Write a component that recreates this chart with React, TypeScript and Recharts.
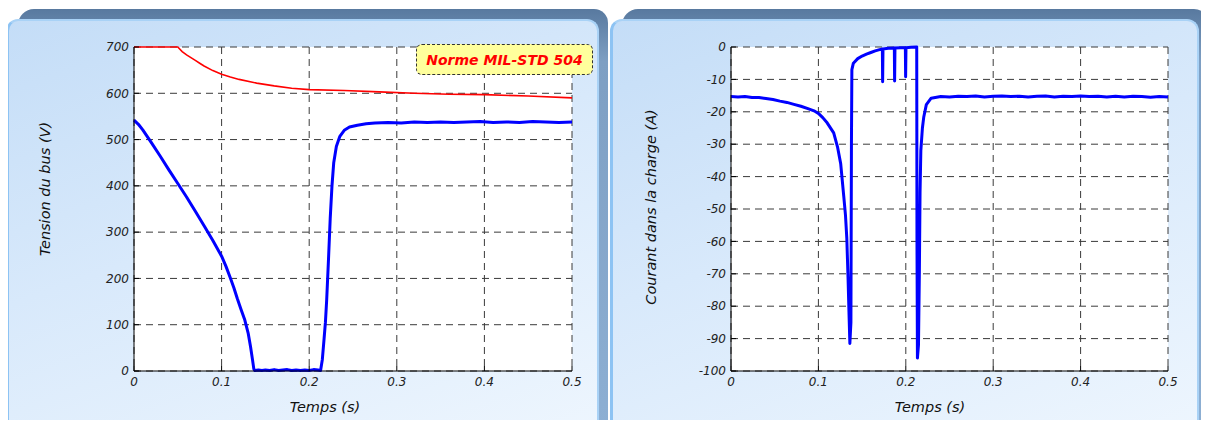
import { CartesianGrid, Line, LineChart, XAxis, YAxis } from "recharts";
import { type JSX, type ReactNode } from "react";

const timeTicks = [0, 0.1, 0.2, 0.3, 0.4, 0.5];
const voltageTicks = [0, 100, 200, 300, 400, 500, 600, 700];
const currentTicks = [-100, -90, -80, -70, -60, -50, -40, -30, -20, -10, 0];

// tension du bus (V), mesurée
const busTime = [
  0, 0.005, 0.01, 0.015, 0.02, 0.03, 0.04, 0.05, 0.06, 0.07, 0.08, 0.09, 0.1,
  0.105, 0.11, 0.114, 0.118, 0.122, 0.1265, 0.1303, 0.133, 0.1353, 0.1368, 0.138,
  0.142, 0.146, 0.15, 0.155, 0.16, 0.165, 0.17, 0.175, 0.18, 0.185, 0.19, 0.195,
  0.2, 0.205, 0.21, 0.213,
  0.215, 0.217, 0.2185, 0.22, 0.222, 0.224, 0.226, 0.228, 0.231, 0.235, 0.24,
  0.246, 0.255, 0.265, 0.275, 0.29, 0.305, 0.32, 0.335, 0.35, 0.365, 0.38,
  0.395, 0.41, 0.425, 0.44, 0.455, 0.47, 0.485, 0.5,
];
const busVoltage = [
  542, 533, 521, 507, 493, 464, 434, 405, 376, 345, 314, 282, 248,
  226, 201, 180, 156, 134, 110, 82, 53, 24, 4, 1,
  2, 1, 2, 1, 3, 1, 2, 3, 1, 2, 1, 2,
  1, 3, 2, 1,
  25, 70, 105, 155, 240, 330, 400, 450, 485, 507, 520,
  527, 531, 534, 536, 537, 536, 538, 537, 538, 537, 538,
  539, 537, 538, 537, 539, 538, 537, 538,
];

// norme MIL-STD 504
const normTime = [
  0, 0.05, 0.055, 0.06, 0.065, 0.07, 0.075, 0.08, 0.09, 0.1, 0.11, 0.12, 0.14,
  0.16, 0.18, 0.2, 0.24, 0.28, 0.32, 0.36, 0.4, 0.45, 0.5,
];
const normVoltage = [
  700, 700, 690, 683, 677, 671, 665, 659, 649, 641, 635, 630, 622,
  616, 611, 608, 606, 603, 600, 598, 597, 594, 590,
];

// courant dans la charge (A)
const loadTime = [
  0, 0.008, 0.016, 0.024, 0.032, 0.04, 0.048, 0.056, 0.064, 0.072, 0.08, 0.088,
  0.095, 0.1, 0.105, 0.11, 0.1175, 0.122, 0.1255, 0.129, 0.131, 0.1325, 0.134,
  0.135, 0.136, 0.1372, 0.1378, 0.1383, 0.14, 0.145, 0.15, 0.155, 0.16, 0.165,
  0.17, 0.1732, 0.1735, 0.1739, 0.18, 0.1869, 0.1872, 0.1876, 0.194, 0.1995,
  0.1998, 0.2002, 0.206, 0.2125, 0.2128, 0.2133, 0.2145, 0.2155, 0.2163, 0.2172,
  0.219, 0.2205, 0.2235, 0.229, 0.24, 0.25, 0.26, 0.27, 0.28, 0.29, 0.3, 0.31,
  0.32, 0.33, 0.34, 0.35, 0.36, 0.37, 0.38, 0.39, 0.4, 0.41, 0.42, 0.43, 0.44,
  0.45, 0.46, 0.47, 0.48, 0.49, 0.5,
];
const loadCurrent = [
  -15.3, -15.4, -15.3, -15.6, -15.6, -15.9, -16.2, -16.7, -17.1, -17.7, -18.3, -19.0,
  -19.7, -20.5, -21.8, -23.4, -26.5, -31, -36, -46, -52, -59, -72,
  -82, -91.5, -85, -30, -7, -5, -3.6, -2.8, -2.2, -1.7, -1.2,
  -0.8, -0.6, -10.7, -0.6, -0.4, -0.3, -10.5, -0.3, -0.2, -0.2,
  -9.2, -0.2, -0.1, 0, -60, -96, -92, -70, -45, -32,
  -25, -21.7, -17.8, -15.8, -15.3, -15.4, -15.2, -15.3, -15.1, -15.4, -15.2, -15.1,
  -15.3, -15.2, -15.4, -15.2, -15.1, -15.4, -15.2, -15.3, -15.1, -15.3, -15.2, -15.4, -15.2,
  -15.4, -15.2, -15.3, -15.5, -15.3, -15.4,
];

const zip = (ts: number[], vs: number[]) => ts.map((t, i) => ({ t, v: vs[i] }));

const busData = zip(busTime, busVoltage);
const normData = zip(normTime, normVoltage);
const loadData = zip(loadTime, loadCurrent);

const FONT = "'DejaVu Sans', Verdana, sans-serif";
const tickStyle = { fill: "#222", fontSize: 12, fontStyle: "italic", fontFamily: FONT };

const xTitle = (x: number) => () => (
  <text x={x} y={407} textAnchor="middle" dominantBaseline="central"
    fontFamily={FONT} fontStyle="italic" fontSize={14.5} fill="#111">
    Temps (s)
  </text>
);

const yTitle = (text: string, x: number, y: number) => () => (
  <text x={x} y={y} textAnchor="middle" dominantBaseline="central"
    transform={`rotate(-90, ${x}, ${y})`}
    fontFamily={FONT} fontStyle="italic" fontSize={14.5} fill="#111">
    {text}
  </text>
);

const Panel = ({ left, width }: { left: number; width: number }): JSX.Element => (
  <div style={{ position: "absolute", left, top: 0, width, height: 428 }}>
    <div
      style={{
        position: "absolute", left: 12, top: 9, right: 0, height: 440,
        borderRadius: "16px 14px 0 0",
        background: "linear-gradient(#58799f, #7e9fc3 12%, #8eb0d4)",
      }}
    />
    <div
      style={{
        position: "absolute", left: 0, top: 19, right: 9, height: 420,
        borderRadius: 12, boxSizing: "border-box",
        borderLeft: "3px solid #8dc3f3", borderTop: "2px solid #a9d2f6",
        borderRight: "2px solid #a9d2f6",
        background: "linear-gradient(160deg, #c4ddf7 0%, #d8e9fb 45%, #eef6fe 100%)",
      }}
    />
  </div>
);

const Frame = ({ children }: { children: ReactNode }) => (
  <div style={{ position: "relative", width: 1209, height: 428, margin: -8, overflow: "hidden", background: "#fff" }}>
    {children}
  </div>
);

export default function App(): JSX.Element {
  return (
    <Frame>
      <Panel left={6} width={602} />
      <Panel left={610} width={598} />

      <div style={{ position: "absolute", left: 0, top: 0 }}>
        <LineChart width={605} height={428} margin={{ top: 47, right: 33, bottom: 27, left: 24 }}>
          <CartesianGrid stroke="#3a3a3a" strokeDasharray="7 5" fill="#fff" />
          <XAxis dataKey="t" type="number" domain={[0, 0.5]} ticks={timeTicks}
            height={30} stroke="#000" tickSize={-5} tickMargin={11} tick={tickStyle}
            label={{ content: xTitle(325) }} />
          <YAxis type="number" domain={[0, 700]} ticks={voltageTicks}
            width={110} stroke="#000" tickSize={-5} tickMargin={10} tick={tickStyle}
            label={{ content: yTitle("Tension du bus (V)", 45, 189) }} />
          <Line data={normData} dataKey="v" stroke="#ff0000" strokeWidth={1.6} dot={false}
            isAnimationActive={false} />
          <Line data={busData} dataKey="v" stroke="#0000ff" strokeWidth={3} dot={false}
            strokeLinejoin="round" isAnimationActive={false} />
        </LineChart>
      </div>

      <div
        style={{
          position: "absolute", left: 416, top: 44, width: 177, height: 31,
          boxSizing: "border-box", background: "#ffff9c", border: "1px dashed #333",
          borderRadius: 6, display: "flex", alignItems: "center", justifyContent: "center",
          color: "#ff0000", fontFamily: FONT, fontWeight: "bold", fontStyle: "italic", fontSize: 14,
        }}
      >
        Norme MIL-STD 504
      </div>

      <div style={{ position: "absolute", left: 605, top: 0 }}>
        <LineChart width={604} height={428} margin={{ top: 47, right: 41, bottom: 27, left: 16 }}>
          <CartesianGrid stroke="#3a3a3a" strokeDasharray="7 5" fill="#fff" />
          <XAxis dataKey="t" type="number" domain={[0, 0.5]} ticks={timeTicks}
            height={30} stroke="#000" tickSize={-5} tickMargin={11} tick={tickStyle}
            label={{ content: xTitle(325) }} />
          <YAxis type="number" domain={[-100, 0]} ticks={currentTicks}
            width={110} stroke="#000" tickSize={-5} tickMargin={10} tick={tickStyle}
            label={{ content: yTitle("Courant dans la charge (A)", 46, 207) }} />
          <Line data={loadData} dataKey="v" stroke="#0000ff" strokeWidth={3} dot={false}
            strokeLinejoin="round" isAnimationActive={false} />
        </LineChart>
      </div>
    </Frame>
  );
}
